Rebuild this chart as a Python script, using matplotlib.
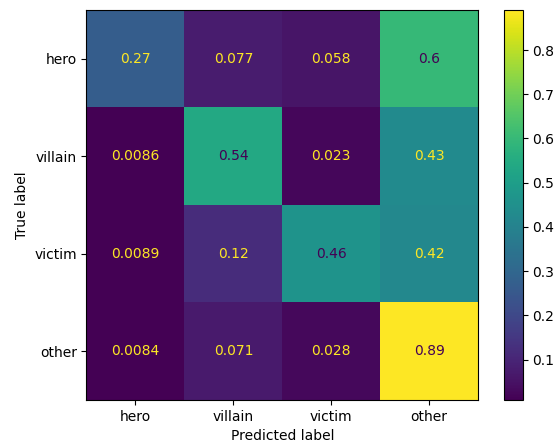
import matplotlib
matplotlib.use("Agg")
import matplotlib.pyplot as plt
import numpy as np

labels = ["hero", "villain", "victim", "other"]
row_hero = [0.27, 0.077, 0.058, 0.6]
row_villain = [0.0086, 0.54, 0.023, 0.43]
row_victim = [0.0089, 0.12, 0.46, 0.42]
row_other = [0.0084, 0.071, 0.028, 0.89]

cm = np.array([row_hero, row_villain, row_victim, row_other])

fig = plt.figure(figsize=(5.58, 4.44), dpi=100)
ax = fig.add_axes([0.155, 0.099, 0.702, 0.878])
cax = fig.add_axes([0.903, 0.099, 0.034, 0.878])

cmap = plt.get_cmap("viridis")
im = ax.imshow(cm, interpolation="nearest", cmap=cmap, aspect="auto")
fig.colorbar(im, cax=cax)

# couleur du texte comme dans sklearn
seuil = (cm.max() + cm.min()) / 2.0
for i in range(cm.shape[0]):
    for j in range(cm.shape[1]):
        couleur = cmap(0) if cm[i, j] >= seuil else cmap(1.0)
        ax.text(j, i, format(cm[i, j], ".2g"), ha="center", va="center", color=couleur)

ax.set_xticks(range(len(labels)))
ax.set_xticklabels(labels)
ax.set_yticks(range(len(labels)))
ax.set_yticklabels(labels)
ax.set_xlabel("Predicted label")
ax.set_ylabel("True label")
ax.set_ylim(len(labels) - 0.5, -0.5)

fig.savefig("out.png")
